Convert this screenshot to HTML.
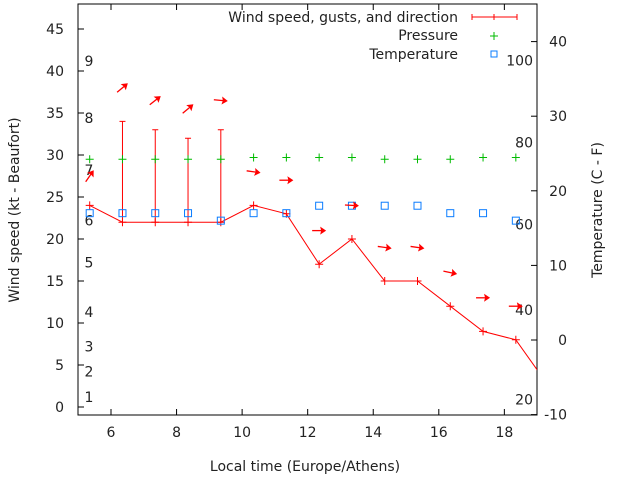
<!DOCTYPE html>
<html><head><meta charset="utf-8"><style>
body{margin:0;background:#fff}
svg{display:block;font-family:"DejaVu Sans","Liberation Sans",sans-serif;font-size:14px}
</style></head><body>
<svg width="640" height="480" viewBox="0 0 640 480">
<g id="axes"></g>
<g id="marks"></g>
<g id="legend">
<text x="458" y="22" text-anchor="end" fill="#222">Wind speed, gusts, and direction</text>
<line x1="472" y1="17" x2="517" y2="17" stroke="#f00"/>
<path d="M472 14v6M517 14v6M494 14v6" stroke="#f00"/>
<text x="458" y="40" text-anchor="end" fill="#222">Pressure</text>
<path d="M490 36h8M494 32v8" stroke="#0b0"/>
<text x="458" y="59" text-anchor="end" fill="#222">Temperature</text>
<rect x="491" y="51" width="6" height="6" fill="none" stroke="#0a7cff"/>
</g>
<text transform="translate(19,210) rotate(-90)" text-anchor="middle" fill="#222">Wind speed (kt - Beaufort)</text>
<text transform="translate(602,210) rotate(-90)" text-anchor="middle" fill="#222">Temperature (C - F)</text>
<text x="305" y="471" text-anchor="middle" fill="#222">Local time (Europe/Athens)</text>
</svg>
<script>
const times=[5.35,6.35,7.35,8.35,9.35,10.35,11.35,12.35,13.35,14.35,15.35,16.35,17.35,18.35,19.35];
const wind=[24,22,22,22,22,24,23,17,20,15,15,12,9,8,2.5];
const gustTimes=[6.35,7.35,8.35,9.35];
const gusts=[34,33,32,33];
const pressure=[29.5,29.5,29.5,29.5,29.5,29.7,29.7,29.7,29.7,29.5,29.5,29.5,29.7,29.7];
const temperature=[17,17,17,17,16,17,17,18,18,18,18,17,17,16];
const dirAngles=[-55,-40,-38,-40,5,8,0,0,3,8,8,12,0,0];
const dirLevels=[27.5,38,36.5,35.5,36.5,28,27,21,24,19,19,16,13,12];
const xTicks=[6,8,10,12,14,16,18];
const yTicks=[0,5,10,15,20,25,30,35,40,45];
const y2Ticks=[-10,0,10,20,30,40];
const beaufort=[[1,1.2],[2,4.2],[3,7.2],[4,11.3],[5,17.2],[6,22.2],[7,28.2],[8,34.4],[9,41.2]];
const fahr=[[20,-8],[40,4],[60,15.5],[80,26.5],[100,37.5]];
const NS='http://www.w3.org/2000/svg';
const X=t=>111+(t-6)*32.78, Y=v=>407-v*8.4, Y2=c=>340-c*7.46;
const L=78,R=537,T=4,B=415;
function mk(p,tag,a,txt){const e=document.createElementNS(NS,tag);for(const k in a)e.setAttribute(k,a[k]);if(txt!=null)e.textContent=txt;p.appendChild(e);return e;}
const ax=document.getElementById('axes'),mg=document.getElementById('marks');
const fr=mk(ax,'rect',{x:L,y:T,width:R-L,height:B-T,fill:'none',stroke:'#000'});


xTicks.forEach(t=>{const x=X(t);
 const l=mk(ax,'path',{d:`M${x} ${B}v-6M${x} ${T}v6`,stroke:'#000'});
 
 
 const s=mk(ax,'text',{x:x,y:B+22,'text-anchor':'middle',fill:'#222'},t);
 
 });
yTicks.forEach(v=>{const y=Y(v);
 const l=mk(ax,'path',{d:`M${L} ${y}h6`,stroke:'#000'});
 
 
 const s=mk(ax,'text',{x:L-14,y:y+5,'text-anchor':'end',fill:'#222'},v);
 
 });
y2Ticks.forEach(v=>{const y=Y2(v);
 const l=mk(ax,'path',{d:`M${R} ${y}h-6`,stroke:'#000'});
 
 
 const s=mk(ax,'text',{x:R+30,y:y+5,'text-anchor':'end',fill:'#222'},v);
 
 });
beaufort.forEach(([n,v])=>{const s=mk(ax,'text',{x:89,y:Y(v)+5,'text-anchor':'middle',fill:'#222'},n);
 
 });
fahr.forEach(([n,c])=>{const s=mk(ax,'text',{x:533,y:Y2(c)+5,'text-anchor':'end',fill:'#222'},n);
 
 });
const cp=mk(mg,'clipPath',{id:'cp'});mk(cp,'rect',{x:L,y:T,width:R-L,height:B-T});
const g=mk(mg,'g',{'clip-path':'url(#cp)'});
const pl=mk(g,'polyline',{points:times.map((t,i)=>X(t)+','+Y(wind[i])).join(' '),fill:'none',stroke:'#f00'});


times.forEach((t,i)=>{const x=X(t),y=Y(wind[i]);
 const p=mk(g,'path',{d:`M${x-4} ${y}h8M${x} ${y-4}v8`,stroke:'#f00'});
 
 });
gustTimes.forEach((t,i)=>{const x=X(t),y1=Y(gusts[i]),y0=Y(wind[times.indexOf(t)]);
 const p=mk(g,'path',{d:`M${x} ${y0}V${y1}M${x-3} ${y1}h6`,stroke:'#f00'});
 
 });
pressure.forEach((v,i)=>{const x=X(times[i]),y=Y(v);
 const p=mk(g,'path',{d:`M${x-4} ${y}h8M${x} ${y-4}v8`,stroke:'#0b0'});
 
 });
temperature.forEach((v,i)=>{const x=X(times[i]),y=Y2(v);
 const r=mk(g,'rect',{x:x-3.5,y:y-3.5,width:7,height:7,fill:'none',stroke:'#0a7cff'});
 
 });
dirAngles.forEach((a,i)=>{const cx=X(times[i]),cy=Y(dirLevels[i]);
 const ga=mk(g,'g',{transform:`translate(${cx},${cy}) rotate(${a})`});
 
 
 mk(ga,'line',{x1:-7,y1:0,x2:5,y2:0,stroke:'#f00','stroke-width':1.3});
 mk(ga,'path',{d:'M7 0L1 -4L2 0L1 4Z',fill:'#f00'});});
</script>
</body></html>
